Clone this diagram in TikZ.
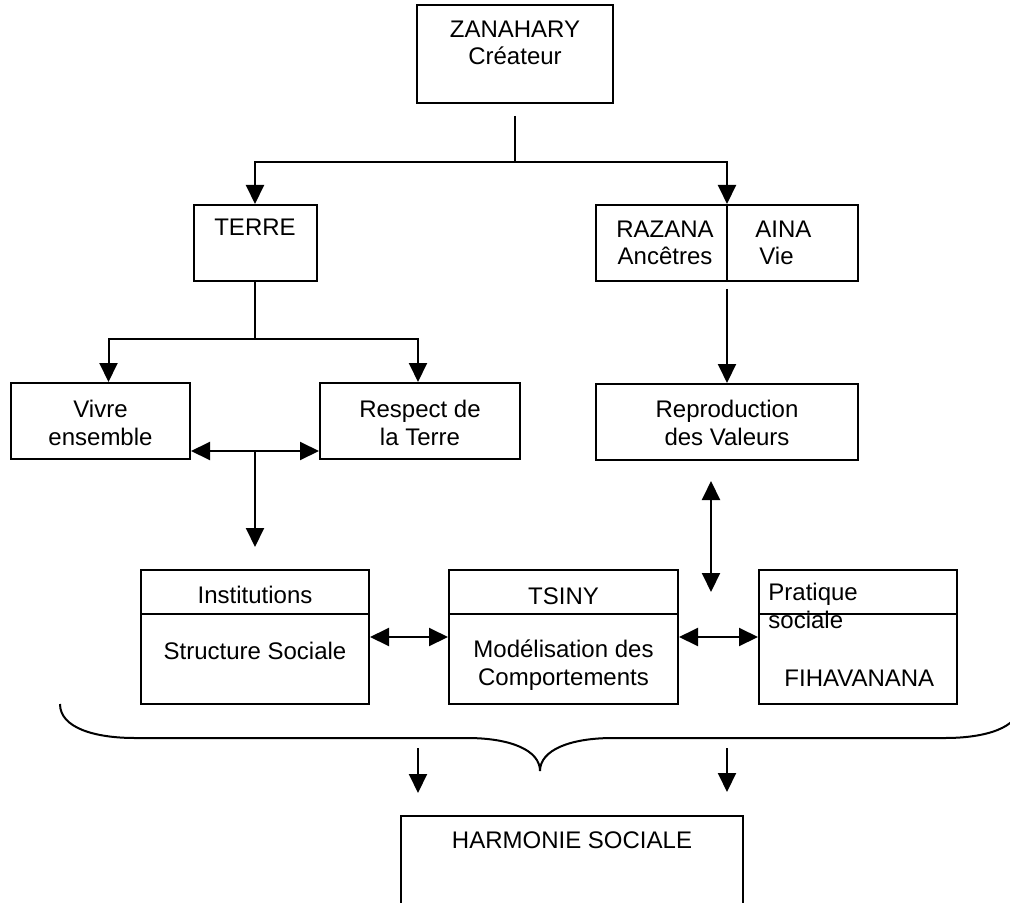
\documentclass[tikz,border=0pt]{standalone}
\usepackage{fontspec}
\setmainfont{Liberation Sans}
\usetikzlibrary{positioning}
\usetikzlibrary{arrows.meta,calc}
\tikzset{boite/.style={draw, line width=1pt, inner sep=0pt}}
\tikzset{texte/.style={align=center, inner sep=0pt, font=\fontsize{12}{13.8}\selectfont}}
\tikzset{trait/.style={line width=1pt}}
\tikzset{fleche/.style={-{Triangle[length=9.5pt,width=9pt]}, line width=1pt}}
\tikzset{dfleche/.style={{Triangle[length=9.5pt,width=9pt]}-{Triangle[length=9.5pt,width=9pt]}, line width=1pt}}

\begin{document}
\begin{tikzpicture}[x=0.5pt,y=-0.5pt]

	\useasboundingbox (0,0) rectangle (1010,903);
	\clip (0,0) rectangle (1010,903);

	% les boites
	\node[boite, minimum width=98pt, minimum height=49pt] (zan) at (515,54) {};
	\node[boite, minimum width=61.5pt, minimum height=38pt] (terre) at (255,243) {};
	\node[boite, minimum width=131pt, minimum height=38pt] (raz) at (727,243) {};
	\draw[trait] (raz.north) -- (raz.south);
	\node[boite, minimum width=89.5pt, minimum height=38pt] (vivre) at (100.5,421) {};
	\node[boite, minimum width=100pt, minimum height=38pt] (resp) at (420,421) {};
	\node[boite, minimum width=131pt, minimum height=38pt] (repro) at (727,422) {};

	\node[boite, minimum width=114pt, minimum height=67pt] (inst) at (255,637) {};
	\node[boite, minimum width=114.5pt, minimum height=67pt] (tsiny) at (563.5,637) {};
	\node[boite, minimum width=99pt, minimum height=67pt] (prat) at (858,637) {};
	\draw[trait] ($(inst.north west)+(0,45)$) -- ($(inst.north east)+(0,45)$);
	\draw[trait] ($(tsiny.north west)+(0,45)$) -- ($(tsiny.north east)+(0,45)$);
	\draw[trait] ($(prat.north west)+(0,45)$) -- ($(prat.north east)+(0,45)$);

	\node[boite, minimum width=171pt, minimum height=57pt] (harm) at (572,873) {};

	% les textes
	\node[texte] (zantxt) at (515,43) {ZANAHARY\\Créateur};
	\node[texte] (terretxt) at (255,227) {TERRE};
	\node[texte] (razana) at (665,243) {RAZANA\\Ancêtres};
	\node[texte, align=left, anchor=west] (aina) at (755,243) {AINA\\\hspace*{2pt}Vie};
	\node[texte] (vivretxt) at (100.5,423) {Vivre\\ensemble};
	\node[texte] (resptxt) at (420,423) {Respect de\\la Terre};
	\node[texte] (reprotxt) at (727,423) {Reproduction\\des Valeurs};
	\node[texte] (insttxt) at (255,595) {Institutions};
	\node[texte] (structxt) at (255,651) {Structure Sociale};
	\node[texte] (tsinytxt) at (563.5,596) {TSINY};
	\node[texte] (modeltxt) at (563.5,665) {Modélisation des\\Comportements};
	\node[texte, align=left, anchor=west] (prattxt) at (768,606) {Pratique\\sociale};
	\node[texte, anchor=west] (fihtxt) at (784,678) {FIHAVANANA};
	\node[texte] (harmtxt) at (572,840) {HARMONIE SOCIALE};

	% les liaisons
	\coordinate (zanpied) at (515,116);
	\coordinate (zannoeud) at (515,162);
	\draw[trait] (zanpied) -- (zannoeud);
	\draw[fleche] (zannoeud) -| (terre.north);
	\draw[fleche] (zannoeud) -| (raz.north);

	\draw[trait] (terre.south) -- ++(0,57) coordinate (terrenoeud);
	\draw[fleche] (terrenoeud) -| ([xshift=4pt]vivre.north);
	\draw[fleche] (terrenoeud) -| ([xshift=-1pt]resp.north);

	\draw[dfleche] ([yshift=-15pt]vivre.east) -- ([yshift=-15pt]resp.west);
	\coordinate (vrmilieu) at ($([yshift=-15pt]vivre.east)!0.5!([yshift=-15pt]resp.west)$);
	\coordinate (instfleche) at (255,547);
	\draw[fleche] (vrmilieu) -- (instfleche);

	\draw[fleche] ([yshift=-3.5pt]raz.south) -- (repro.north);

	\coordinate (valhaut) at (711,481);
	\coordinate (valbas) at (711,592);
	\draw[dfleche] (valhaut) -- (valbas);

	\draw[dfleche] (inst.east) -- (tsiny.west);
	\draw[dfleche] (tsiny.east) -- (prat.west);

	% l'accolade
	\draw[trait] (60,704) .. controls (60,728) and (95,738) .. (135,738) -- (467,738)
		.. controls (510,738) and (540,750) .. (540,771)
		.. controls (540,750) and (570,738) .. (613,738) -- (945,738)
		.. controls (985,738) and (1020,728) .. (1020,704);

	\coordinate (hgauche) at (418,748);
	\coordinate (hdroite) at (727,748);
	\draw[fleche] (hgauche) -- ++(0,45);
	\draw[fleche] (hdroite) -- ++(0,44);

\end{tikzpicture}
\end{document}
